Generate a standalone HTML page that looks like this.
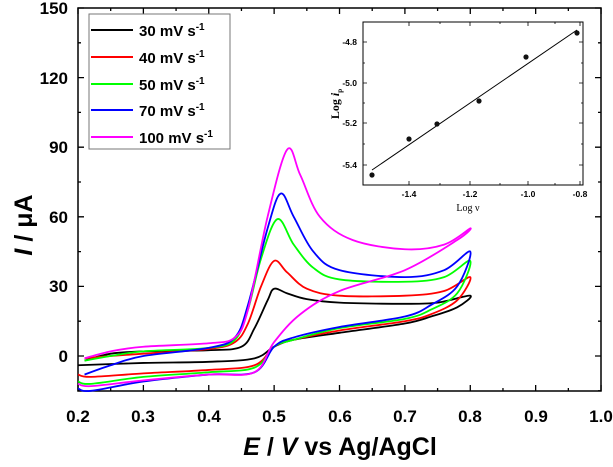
<!DOCTYPE html>
<html><head><meta charset="utf-8"><style>
body{margin:0;background:#fff}
svg{display:block;font-family:"Liberation Sans",Arial,sans-serif}
</style></head><body>
<svg id="s" width="613" height="467" xmlns="http://www.w3.org/2000/svg">
<rect x="78" y="8" width="523" height="383" fill="none" stroke="#000" stroke-width="1.5"/>
<g id="ticks" stroke="#000" stroke-width="1.3"></g>
<g font-weight="bold" font-size="17" text-anchor="end">
<text x="68" y="14">150</text><text x="68" y="84">120</text><text x="68" y="153">90</text>
<text x="68" y="223">60</text><text x="68" y="292">30</text><text x="68" y="362">0</text>
</g>
<g font-weight="bold" font-size="17" text-anchor="middle">
<text x="78" y="422">0.2</text><text x="143" y="422">0.3</text><text x="209" y="422">0.4</text>
<text x="274" y="422">0.5</text><text x="340" y="422">0.6</text><text x="405" y="422">0.7</text>
<text x="470" y="422">0.8</text><text x="536" y="422">0.9</text><text x="601" y="422">1.0</text>
</g>
<text x="340" y="455" font-size="25" font-weight="bold" text-anchor="middle"><tspan font-style="italic">E</tspan> / <tspan font-style="italic">V</tspan> vs  Ag/AgCl</text>
<text transform="translate(32,225) rotate(-90)" font-size="25" font-weight="bold" text-anchor="middle"><tspan font-style="italic">I</tspan> / μA</text>
<g id="curves" fill="none" stroke-width="1.8"></g>
<rect x="89" y="14" width="141" height="135" fill="#fff" stroke="#777" stroke-width="1"/>
<g stroke-width="2">
<line x1="91" y1="30" x2="133" y2="30" stroke="#000"/>
<line x1="91" y1="57" x2="133" y2="57" stroke="#f00"/>
<line x1="91" y1="84" x2="133" y2="84" stroke="#0f0"/>
<line x1="91" y1="110" x2="133" y2="110" stroke="#00f"/>
<line x1="91" y1="137" x2="133" y2="137" stroke="#f0f"/>
</g>
<g font-size="15" font-weight="bold">
<text x="139" y="36">30 mV s<tspan dy="-6" font-size="10">-1</tspan></text>
<text x="139" y="63">40 mV s<tspan dy="-6" font-size="10">-1</tspan></text>
<text x="139" y="90">50 mV s<tspan dy="-6" font-size="10">-1</tspan></text>
<text x="139" y="116">70 mV s<tspan dy="-6" font-size="10">-1</tspan></text>
<text x="139" y="143">100 mV s<tspan dy="-6" font-size="10">-1</tspan></text>
</g>
<rect x="363" y="22" width="220" height="163" fill="#fff" stroke="#000" stroke-width="1"/>
<g id="iticks" stroke="#000" stroke-width="0.8"></g>
<g font-size="8.5" font-weight="bold" text-anchor="end">
<text x="357" y="45">-4.8</text><text x="357" y="86">-5.0</text><text x="357" y="126">-5.2</text><text x="357" y="168">-5.4</text>
</g>
<g font-size="8.5" font-weight="bold" text-anchor="middle">
<text x="409" y="197">-1.4</text><text x="470" y="197">-1.2</text><text x="528" y="197">-1.0</text><text x="580" y="197">-0.8</text>
</g>
<text x="468" y="211" font-size="10" font-family="Liberation Serif,serif" text-anchor="middle">Log ν</text>
<text transform="translate(339,104) rotate(-90)" font-size="12" font-family="Liberation Serif,serif" font-weight="bold" text-anchor="middle">Log <tspan font-style="italic">i</tspan><tspan font-size="7" dy="3">p</tspan></text>
<line x1="372" y1="170" x2="577" y2="30" stroke="#000" stroke-width="1"/>
<g fill="#111">
<circle cx="372" cy="175" r="2.6"/><circle cx="409" cy="139" r="2.6"/><circle cx="437" cy="124" r="2.6"/>
<circle cx="479" cy="101" r="2.6"/><circle cx="526" cy="57" r="2.6"/><circle cx="577" cy="33" r="2.6"/>
</g>
</svg>
<script>
var NS="http://www.w3.org/2000/svg";
function X(v){return 78+(v-0.2)*653.75}
function Y(i){return 356-i*2.32}
var t=document.getElementById("ticks"),d="";
for(var k=0;k<=16;k++){var x=78+k*32.69,l=k%2==0?6:3;d+="M"+x+" 391v-"+l+"M"+x+" 8v"+l;}
for(var k=-1;k<=10;k++){var y=356-k*34.8,l=k%2==0?6:3;if(y<8||y>391)continue;d+="M78 "+y+"h"+l+"M601 "+y+"h-"+l;}
var p=document.createElementNS(NS,"path");p.setAttribute("d",d);t.appendChild(p);
var it=document.getElementById("iticks"),d2="";
[409,440,470,500,528,555,580].forEach(function(x,i){var l=i%2==0?4:2;d2+="M"+x+" 185v-"+l+"M"+x+" 22v"+l;});
[42,63,83,103,123,144,165].forEach(function(y,i){var l=i%2==0?4:2;d2+="M363 "+y+"h"+l+"M583 "+y+"h-"+l;});
var p2=document.createElementNS(NS,"path");p2.setAttribute("d",d2);it.appendChild(p2);
var C=[
["#000",[[0.21,-2],[0.25,1],[0.3,2],[0.4,2.5],[0.45,4],[0.47,12],[0.49,24],[0.5,29],[0.52,27],[0.55,24.5],[0.6,23],[0.7,22.5],[0.75,23],[0.8,26],[0.78,21],[0.74,17],[0.7,14],[0.6,10],[0.53,7],[0.5,4],[0.47,-1],[0.4,-2.5],[0.3,-3],[0.2,-4]]],
["#f00",[[0.21,-1],[0.25,0],[0.3,1],[0.4,3],[0.44,6],[0.46,14],[0.48,30],[0.5,41],[0.52,36],[0.55,29],[0.6,26],[0.7,26],[0.76,28],[0.8,34],[0.78,24],[0.74,18],[0.7,15],[0.6,11],[0.53,7],[0.5,4],[0.47,-4],[0.4,-6],[0.3,-7.5],[0.22,-9],[0.2,-8]]],
["#0f0",[[0.21,-2],[0.25,0],[0.3,2],[0.4,3.5],[0.44,7],[0.46,20],[0.48,42],[0.505,59],[0.53,48],[0.56,38],[0.6,33],[0.7,32],[0.76,34],[0.8,41],[0.78,27],[0.74,20],[0.7,16],[0.6,12],[0.53,7],[0.5,4],[0.47,-5],[0.4,-7],[0.3,-9],[0.22,-12],[0.2,-11]]],
["#00f",[[0.21,-8],[0.25,-4],[0.3,0],[0.4,3.5],[0.44,8],[0.46,22],[0.49,55],[0.51,70],[0.53,60],[0.56,45],[0.6,37],[0.7,34],[0.76,37],[0.8,45],[0.78,30],[0.74,22],[0.7,17],[0.6,12.5],[0.53,8],[0.5,4],[0.47,-7],[0.4,-8],[0.3,-11],[0.22,-15],[0.2,-14]]],
["#f0f",[[0.21,-1],[0.25,2],[0.3,4],[0.4,5.5],[0.44,8],[0.46,20],[0.49,60],[0.52,89],[0.54,78],[0.57,60],[0.62,50],[0.7,46],[0.76,48],[0.8,55],[0.78,50],[0.7,37],[0.6,28],[0.54,18],[0.5,6],[0.47,-7],[0.4,-8],[0.3,-10.5],[0.22,-13],[0.2,-12]]]
];
var g=document.getElementById("curves");
C.forEach(function(c){var P=c[1].map(function(q){return[X(q[0]),Y(q[1])]});
var s="M"+P[0][0]+" "+P[0][1];
for(var i=0;i<P.length-1;i++){var p0=P[i-1]||P[i],p1=P[i],p2=P[i+1],p3=P[i+2]||p2;
s+="C"+(p1[0]+(p2[0]-p0[0])/6)+" "+(p1[1]+(p2[1]-p0[1])/6)+" "+(p2[0]-(p3[0]-p1[0])/6)+" "+(p2[1]-(p3[1]-p1[1])/6)+" "+p2[0]+" "+p2[1];}
var e=document.createElementNS(NS,"path");e.setAttribute("d",s);e.setAttribute("stroke",c[0]);g.appendChild(e);});
</script>
</body></html>
